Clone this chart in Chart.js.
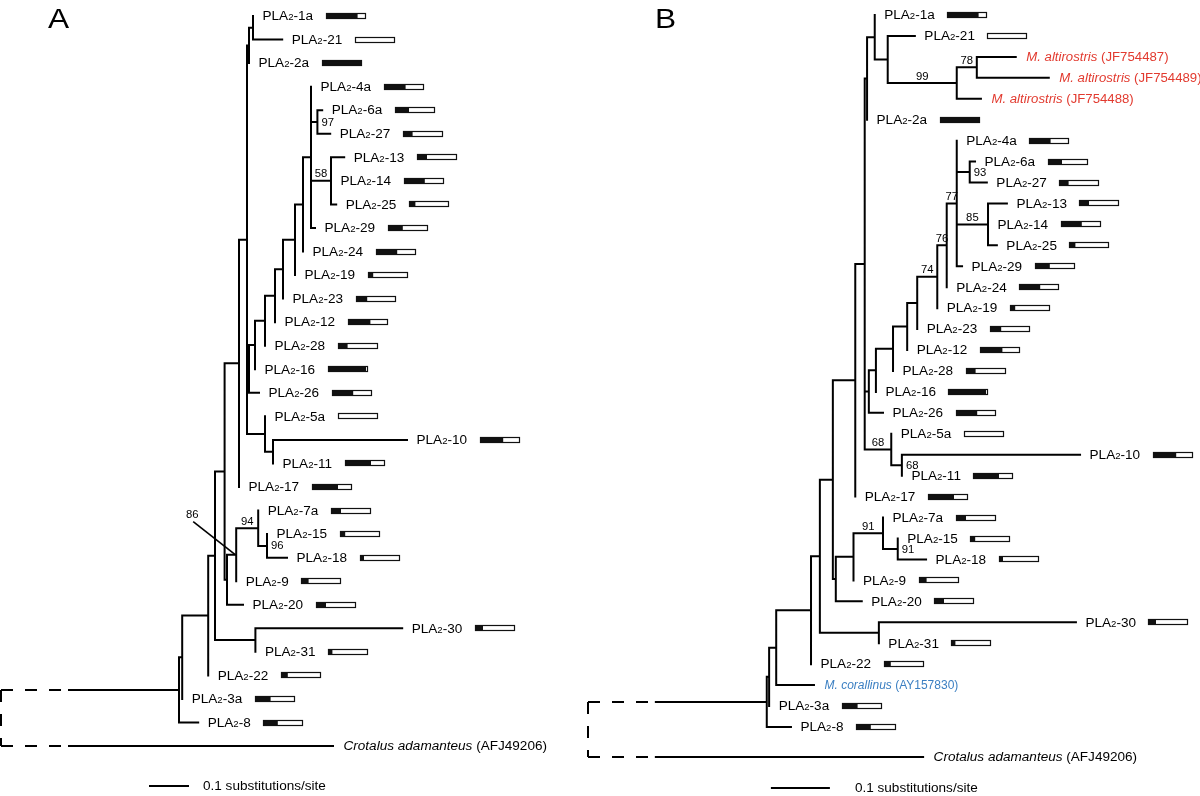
<!DOCTYPE html>
<html>
<head>
<meta charset="utf-8">
<script src="https://cdn.jsdelivr.net/npm/chart.js@4.4.1/dist/chart.umd.min.js"></script>
<style>
  html, body { margin: 0; padding: 0; background: #fff; }
  #wrap { position: relative; width: 1200px; height: 796px; overflow: hidden; }
  #chartA { position: absolute; left: 0; top: 0; }
  #chartB { position: absolute; left: 560px; top: 0; }
</style>
</head>
<body>
<div id="wrap">
  <canvas id="chartA" width="560" height="796"></canvas>
  <canvas id="chartB" width="640" height="796"></canvas>
</div>
<script>
// share of the black part in each PLA2 bar
const pla2Names = ["1a","2a","3a","4a","5a","6a","7a","8","9","10","11","12","13","14","15","16",
  "17","18","19","20","21","22","23","24","25","26","27","28","29","30","31"];
const blackShare = [0.79,1.0,0.39,0.54,0,0.35,0.25,0.37,0.19,0.58,0.65,0.56,0.25,0.52,0.13,0.95,
  0.65,0.1,0.13,0.25,0,0.17,0.28,0.53,0.16,0.53,0.24,0.24,0.37,0.2,0.11];

// leaves, top to bottom
const leavesA = ["1a","21","2a","4a","6a","27","13","14","25","29","24","19","23","12","28","16","26",
  "5a","10","11","17","7a","15","18","9","20","30","31","22","3a","8","Crotalus adamanteus (AFJ49206)"];
const leavesB = ["1a","21","M. altirostris (JF754487)","M. altirostris (JF754489)","M. altirostris (JF754488)",
  "2a","4a","6a","27","13","14","25","29","24","19","23","12","28","16","26","5a","10","11","17","7a",
  "15","18","9","20","30","31","22","M. corallinus (AY157830)","3a","8","Crotalus adamanteus (AFJ49206)"];

// [node, parent, distance from root in substitutions/site]
const treeA = [
  ["X","root",0.445],["8","X",0.493],["W","X",0.453],["3a","W",0.453],["V","W",0.518],["22","V",0.518],
  ["T","V",0.535],["U","T",0.636],["30","U",1.003],["31","U",0.636],["R","T",0.559],["S","R",0.565],
  ["20","S",0.605],["n86","S",0.588],["9","n86",0.588],["n94","n86",0.643],["7a","n94",0.643],
  ["n96","n94",0.665],["15","n96",0.665],["18","n96",0.715],["P","R",0.595],["17","P",0.595],
  ["Q","P",0.615],["N2","Q",0.62],["2a","N2",0.62],["Q1","N2",0.63],["1a","Q1",0.63],["21","Q1",0.703],
  ["C8","Q",0.62],["26","C8",0.645],["C7","C8",0.635],["16","C7",0.635],["C6","C7",0.66],["28","C6",0.66],
  ["C5","C6",0.685],["12","C5",0.685],["C4","C5",0.705],["23","C4",0.705],["C3","C4",0.735],["19","C3",0.735],
  ["C2","C3",0.755],["24","C2",0.755],["C1","C2",0.775],["4a","C1",0.775],["n97","C1",0.791],
  ["6a","n97",0.803],["27","n97",0.823],["n58","C1",0.825],["13","n58",0.858],["14","n58",0.825],
  ["25","n58",0.838],["29","C1",0.785],["D","Q",0.66],["5a","D",0.66],["D2","D",0.68],["10","D2",1.015],
  ["11","D2",0.68],["Crotalus adamanteus (AFJ49206)","root",0.83]
];
const treeB = [
  ["Y","root",0.303],["8","Y",0.344],["X","Y",0.307],["3a","X",0.307],["W","X",0.319],
  ["M. corallinus (AY157830)","W",0.383],["V","W",0.378],["22","V",0.378],["T","V",0.393],
  ["U","T",0.493],["30","U",0.827],["31","U",0.493],["R","T",0.415],["S","R",0.42],["20","S",0.464],
  ["n9","S",0.45],["9","n9",0.45],["N91","n9",0.5],["7a","N91",0.5],["N91b","N91",0.525],
  ["15","N91b",0.525],["18","N91b",0.573],["P","R",0.453],["17","P",0.453],["Q","P",0.469],
  ["N2","Q",0.473],["2a","N2",0.473],["Q1","N2",0.486],["1a","Q1",0.486],["NA","Q1",0.508],
  ["21","NA",0.554],["ALT","NA",0.625],["N78","ALT",0.659],["M. altirostris (JF754487)","N78",0.725],
  ["M. altirostris (JF754489)","N78",0.781],["M. altirostris (JF754488)","ALT",0.666],
  ["C8","Q",0.476],["26","C8",0.5],["C7","C8",0.488],["16","C7",0.488],["C6","C7",0.517],["28","C6",0.517],
  ["C5","C6",0.541],["12","C5",0.541],["C4","C5",0.558],["23","C4",0.558],["n76","C4",0.592],
  ["19","n76",0.592],["n77","n76",0.608],["24","n77",0.608],["C1","n77",0.625],["4a","C1",0.625],
  ["n93","C1",0.647],["6a","n93",0.656],["27","n93",0.676],["n85","C1",0.678],["13","n85",0.71],
  ["14","n85",0.678],["25","n85",0.693],["29","C1",0.634],["D","Q",0.514],["5a","D",0.514],
  ["D2","D",0.532],["10","D2",0.834],["11","D2",0.532],["Crotalus adamanteus (AFJ49206)","root",0.568]
];

// bootstrap support
const supportA = [["n97",97],["n58",58],["n94",94],["n96",96],["n86",86]];
const supportB = [["ALT",99],["N78",78],["n93",93],["C1",77],["n85",85],["n77",76],["n76",74],
  ["D",68],["D2",68],["N91",91],["N91b",91]];

// truncated (dashed) part of the outgroup split, and scale bar length
const cutA = 0.17;
const cutB = 0.115;
const scaleLen = 0.1;

const FONT = '"Liberation Sans", Arial, Helvetica, sans-serif';
const STRETCH = 1.13;
const INK = "#000";
const speciesStyle = {
  "M. altirostris": { color: "#e23a2f", sx: 1.1 },
  "M. corallinus": { color: "#3b7fc2", sx: 1.0 },
  "Crotalus adamanteus": { color: INK, sx: STRETCH }
};

function drawRuns(ctx, x, y, runs, sx) {
  ctx.save();
  ctx.translate(x, y);
  ctx.scale(sx, 1);
  ctx.textBaseline = "alphabetic";
  let cx = 0;
  runs.forEach(r => {
    ctx.font = r.font;
    ctx.fillStyle = r.color;
    ctx.fillText(r.text, cx, 0);
    cx += ctx.measureText(r.text).width;
  });
  ctx.restore();
  return cx * sx;
}

function buildPanel(canvasId, p) {
  const depth = { root: 0 }, parent = {}, kids = {};
  p.tree.forEach(([id, par, d]) => {
    depth[id] = d;
    parent[id] = par;
    (kids[par] = kids[par] || []).push(id);
  });
  const rowY = {};
  p.leaves.forEach((name, i) => { rowY[name] = i; });
  rowY[p.leaves[p.leaves.length - 1]] += p.lay.outgroupShift;
  function yOf(id) {
    if (id in rowY) return rowY[id];
    const ys = kids[id].map(yOf);
    rowY[id] = (Math.min(...ys) + Math.max(...ys)) / 2;
    return rowY[id];
  }
  yOf("root");

  const gap = { x: null, y: null };
  const solid = [], dashed = [];
  Object.keys(kids).forEach(id => {
    if (id === "root") return;
    const ys = kids[id].map(k => rowY[k]);
    solid.push({ x: depth[id], y: Math.min(...ys) }, { x: depth[id], y: Math.max(...ys) }, gap);
    kids[id].forEach(k => solid.push({ x: depth[id], y: rowY[k] }, { x: depth[k], y: rowY[k] }, gap));
  });
  const [top, bottom] = kids.root;
  const yt = rowY[top], yb = rowY[bottom];
  dashed.push({ x: 0, y: yt }, { x: p.cut, y: yt }, gap,
              { x: 0, y: yt }, { x: 0, y: yb }, gap,
              { x: 0, y: yb }, { x: p.cut, y: yb });
  solid.push({ x: p.cut, y: yt }, { x: depth[top], y: yt }, gap,
             { x: p.cut, y: yb }, { x: depth[bottom], y: yb }, gap);
  const scaleBar = [{ x: p.lay.barX, y: p.lay.barRow }, { x: p.lay.barX + scaleLen, y: p.lay.barRow }];

  const textPlugin = {
    id: "treeText",
    afterDatasetsDraw(chart) {
      const ctx = chart.ctx, xs = chart.scales.x, ys = chart.scales.y;
      const big = "12px " + FONT, sub = "8.5px " + FONT, it = "italic 12px " + FONT;

      // leaf labels and bars
      p.leaves.forEach(name => {
        const lx = xs.getPixelForValue(depth[name]) + 9.5;
        const ly = ys.getPixelForValue(rowY[name]);
        const k = pla2Names.indexOf(name);
        if (k >= 0) {
          const w = drawRuns(ctx, lx, ly + 4.3, [
            { text: "PLA", font: big, color: INK },
            { text: "2", font: sub, color: INK },
            { text: "-" + name, font: big, color: INK }
          ], STRETCH);
          const bx = Math.round(lx + w + 12.5), by = Math.round(ly) - 3, bw = 40, bh = 6;
          ctx.save();
          ctx.fillStyle = "#fff";
          ctx.fillRect(bx, by, bw, bh);
          ctx.fillStyle = "#111";
          ctx.fillRect(bx, by, bw * blackShare[k], bh);
          ctx.strokeStyle = "#111";
          ctx.lineWidth = 1.2;
          ctx.strokeRect(bx + 0.5, by + 0.5, bw - 1, bh - 1);
          ctx.restore();
        } else {
          const cut = name.indexOf(" (");
          const sp = name.slice(0, cut), acc = name.slice(cut);
          const st = speciesStyle[sp];
          drawRuns(ctx, lx + 1, ly + 4.3, [
            { text: sp, font: it, color: st.color },
            { text: acc, font: big, color: st.color }
          ], st.sx);
        }
      });

      // bootstrap values
      p.support.forEach(([node, val]) => {
        const nx = xs.getPixelForValue(depth[node]);
        const ny = ys.getPixelForValue(rowY[node]);
        const how = p.lay.place[node];
        ctx.save();
        ctx.font = "10px " + FONT;
        const tw = ctx.measureText(String(val)).width * STRETCH;
        let tx, ty;
        if (how === "right") { tx = nx + 4; ty = ny + 3.6; }
        else if (how === "above") {
          const px = xs.getPixelForValue(depth[parent[node]]);
          tx = (px + nx) / 2 - tw / 2; ty = ny - 3.5;
        } else {
          tx = nx - 44 - tw / 2; ty = ny - 36.5;
          ctx.strokeStyle = INK;
          ctx.lineWidth = 1.6;
          ctx.beginPath();
          ctx.moveTo(nx - 43, ny - 33);
          ctx.lineTo(nx - 1, ny);
          ctx.stroke();
        }
        ctx.restore();
        drawRuns(ctx, tx, ty, [{ text: String(val), font: "10px " + FONT, color: INK }], STRETCH);
      });

      // panel letter and scale bar text
      drawRuns(ctx, p.lay.letterX, 28, [{ text: p.letter, font: "28px " + FONT, color: INK }], STRETCH);
      drawRuns(ctx, xs.getPixelForValue(p.lay.barX + scaleLen) + p.lay.barTextGap,
        ys.getPixelForValue(p.lay.barRow) + 4.3,
        [{ text: "0.1 substitutions/site", font: big, color: INK }], STRETCH);
    }
  };

  const lineStyle = { showLine: true, pointRadius: 0, borderColor: INK, borderWidth: 2,
    spanGaps: false, borderCapStyle: "square", borderJoinStyle: "miter", tension: 0 };

  return new Chart(document.getElementById(canvasId), {
    type: "scatter",
    data: {
      datasets: [
        Object.assign({ label: "branches", data: solid }, lineStyle),
        Object.assign({ label: "truncated", data: dashed }, lineStyle,
          { borderDash: [12, 12], borderCapStyle: "butt" }),
        Object.assign({ label: "scale", data: scaleBar }, lineStyle, { borderCapStyle: "butt" })
      ]
    },
    options: {
      responsive: false,
      animation: false,
      devicePixelRatio: 1,
      events: [],
      layout: { padding: 0 },
      plugins: { legend: { display: false }, tooltip: { enabled: false }, title: { display: false } },
      scales: {
        x: { type: "linear", display: false, min: p.lay.xMin, max: p.lay.xMax },
        y: { type: "linear", display: false, reverse: true, min: p.lay.yMin, max: p.lay.yMax }
      }
    },
    plugins: [textPlugin]
  });
}

buildPanel("chartA", {
  letter: "A", leaves: leavesA, tree: treeA, support: supportA, cut: cutA,
  lay: {
    xMin: -0.0025, xMax: 1.3975, yMin: -0.6794, yMax: 33.121, outgroupShift: 0,
    letterX: 48, barX: 0.37, barRow: 32.7, barTextGap: 14,
    place: { n97: "right", n58: "above", n94: "above", n96: "right", n86: "pointer" }
  }
});

buildPanel("chartB", {
  letter: "B", leaves: leavesB, tree: treeB, support: supportB, cut: cutB,
  lay: {
    xMin: -0.04746, xMax: 1.0373, yMin: -0.7163, yMax: 37.297, outgroupShift: 0.43,
    letterX: 95, barX: 0.31, barRow: 36.91, barTextGap: 25,
    place: { ALT: "above", N78: "above", n93: "right", C1: "above", n85: "above", n77: "above",
      n76: "above", D: "above", D2: "right", N91: "above", N91b: "right" }
  }
});
</script>
</body>
</html>
